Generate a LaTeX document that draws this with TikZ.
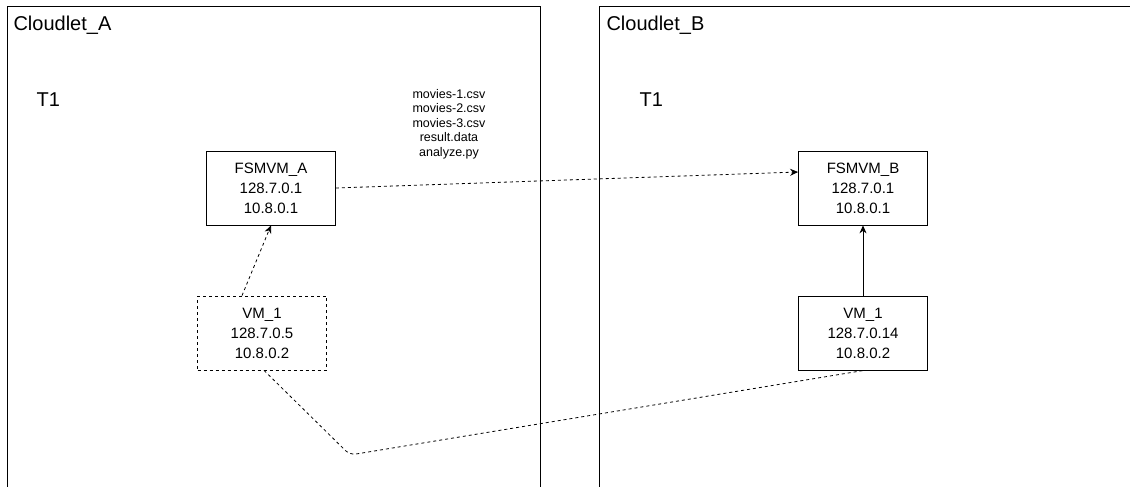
\documentclass[tikz,border=0pt]{standalone}
\usepackage{fontspec}
\setmainfont{Liberation Sans}
\usetikzlibrary{positioning,arrows.meta}

\tikzset{
  vmbox/.style={draw, line width=0.8pt, align=center, inner sep=2pt,
    minimum width=129pt, minimum height=74pt,
    font=\fontsize{15}{20}\selectfont},
  title/.style={anchor=west, font=\fontsize{20}{24}\selectfont},
  link/.style={line width=0.8pt, -{Stealth[length=8pt,width=7pt]}}
}

\begin{document}
\begin{tikzpicture}[x=1pt,y=-1pt]
\useasboundingbox (0,0) rectangle (1130,487);
% cloudlets
\draw[line width=0.8pt] (7,487) -- (7,6) -- (540,6) -- (540,487);
\draw[line width=0.8pt] (599,487) -- (599,6) -- (1130,6);
\node[title] (cloudA) at (10,25) {Cloudlet\_A};
\node[title] (cloudB) at (603,25) {Cloudlet\_B};
\node[title] (tA) at (33,100) {T1};
\node[title] (tB) at (636,100) {T1};

\node[vmbox] (fsmA) at (271,188) {FSMVM\_A\\128.7.0.1\\10.8.0.1};
\node[vmbox, dashed] (vmA) at (262,333) {VM\_1\\128.7.0.5\\10.8.0.2};
\node[align=center, font=\fontsize{12.5}{14.5}\selectfont] (files) at (449,124)
  {movies-1.csv\\movies-2.csv\\movies-3.csv\\result.data\\analyze.py};

\node[vmbox] (fsmB) at (863,188) {FSMVM\_B\\128.7.0.1\\10.8.0.1};
\node[vmbox] (vmB) at (863,333) {VM\_1\\128.7.0.14\\10.8.0.2};
\coordinate (bend) at (350,455);

\draw[link, dashed] (fsmA.east) -- ([yshift=16pt]fsmB.west);
\draw[link, dashed] ([xshift=-20pt]vmA.north) -- (fsmA.south);
\draw[link] (vmB.north) -- (fsmB.south);
\draw[line width=0.8pt, dashed, rounded corners=6pt]
  ([xshift=2pt]vmA.south) -- (bend) -- ([xshift=1pt]vmB.south);
\end{tikzpicture}
\end{document}
